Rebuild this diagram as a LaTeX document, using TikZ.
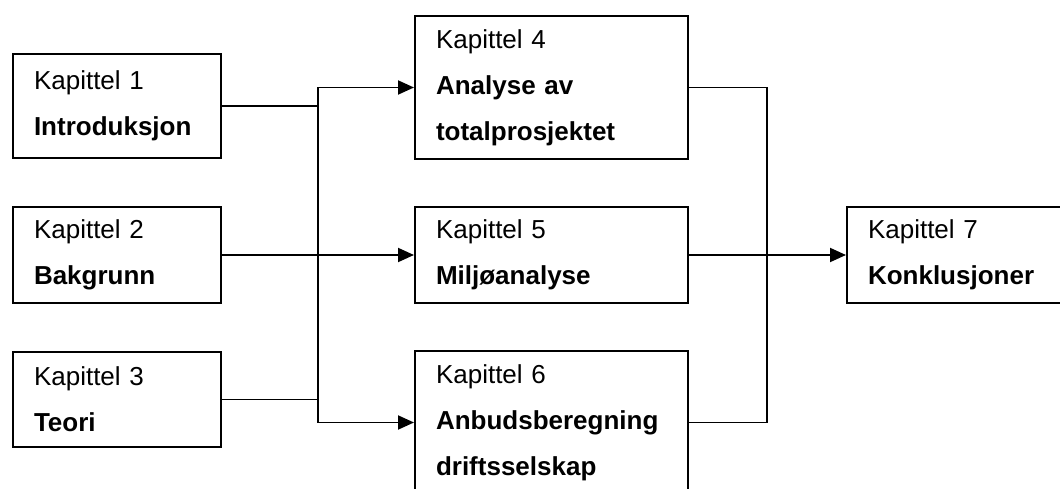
\documentclass[tikz,border=0pt]{standalone}
\usepackage{fontspec}
\setmainfont{Liberation Sans}
\usetikzlibrary{arrows.meta}
\begin{document}
\begin{tikzpicture}[x=1pt, y=-1pt,
        kap/.style={draw, line width=2pt, anchor=north west, align=left,
            inner xsep=21pt, inner ysep=0pt, font=\fontsize{26}{46}\selectfont},
        conn/.style={line width=1.9pt},
        arr/.style={conn, -{Triangle[length=16pt, width=14pt]}}]
        \useasboundingbox (0, 0) rectangle (1060, 489);
        \clip (0, 0) rectangle (1060, 489);

        \node[kap, text width=166pt, minimum height=104pt] (c1) at (12, 53) {Kapittel 1\\\textbf{Introduksjon}};
        \node[kap, text width=166pt, minimum height=96pt] (c2) at (12, 206) {Kapittel 2\\\textbf{Bakgrunn}};
        \node[kap, text width=166pt, minimum height=95pt] (c3) at (12, 351) {Kapittel 3\\\textbf{Teori}};

        \node[kap, text width=231pt, minimum height=143pt] (c4) at (414, 15) {Kapittel 4\\\textbf{Analyse av}\\\textbf{totalprosjektet}};
        \node[kap, text width=231pt, minimum height=96pt] (c5) at (414, 206) {Kapittel 5\\\textbf{Miljøanalyse}};
        \node[kap, text width=231pt, minimum height=143pt] (c6) at (414, 350) {Kapittel 6\\\textbf{Anbudsberegning}\\\textbf{driftsselskap}};

        \node[kap, text width=188pt, minimum height=96pt] (c7) at (846, 206) {Kapittel 7\\\textbf{Konklusjoner}};

        \coordinate (jl) at (318, 254);
        \coordinate (jr) at (767, 254);

        % left side
        \draw[conn] (c1.east) -- (c1.east -| jl);
        \draw[conn] (c3.east) -- (c3.east -| jl);
        \draw[conn] (jl |- c4.west) -- (jl |- c6.west);
        \draw[arr] (jl |- c4.west) -- (c4.west);
        \draw[arr] (jl |- c6.west) -- (c6.west);
        \draw[arr] (c2.east) -- (c5.west);

        % right side
        \draw[conn] (c4.east) -| (jr) |- (c6.east);
        \draw[arr] (c5.east) -- (c7.west);
    \end{tikzpicture}
\end{document}
